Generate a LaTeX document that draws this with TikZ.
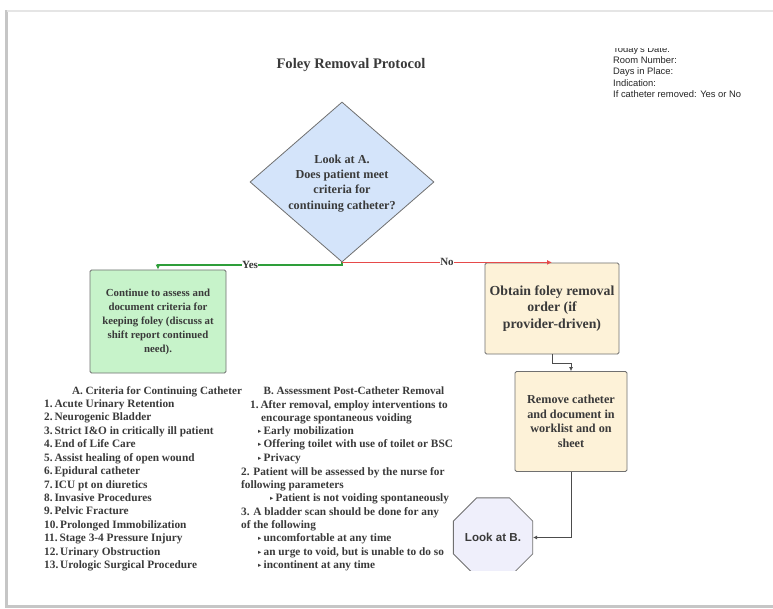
\documentclass[tikz,border=0pt]{standalone}
\usepackage{fontspec}
\setmainfont{Liberation Serif}
\newfontfamily\arialf{Liberation Sans}
\newfontfamily\djv{DejaVu Sans}
\usetikzlibrary{shapes.geometric,arrows.meta}
\definecolor{txt}{HTML}{3A3A3A}
\definecolor{bordc}{HTML}{707070}
\definecolor{dfill}{HTML}{D4E4FA}
\definecolor{gfill}{HTML}{C7F3CA}
\definecolor{bfill}{HTML}{FDF2D8}
\definecolor{ofill}{HTML}{EFEFFB}
\definecolor{gline}{HTML}{2E9E3A}
\definecolor{rline}{HTML}{E64A4A}
\newcommand{\bul}{\makebox[5.5pt][l]{\raisebox{0.6pt}{\djv\fontsize{6.5}{6.5}\selectfont ▸}}}
\tikzset{
  box/.style={draw=bordc, line width=0.8pt, rounded corners=1.5pt, inner sep=0pt, align=center, text=txt},
  listtxt/.style={font=\bfseries\fontsize{11.3}{12}\selectfont, text=txt, inner sep=0pt, anchor=base west},
  listhead/.style={font=\bfseries\fontsize{11.1}{12}\selectfont, text=txt, inner sep=0pt, anchor=base},
  infotxt/.style={font=\arialf\fontsize{9.4}{11}\selectfont, text=black!85, inner sep=0pt, anchor=base west},
  conn/.style={draw=black!70, line width=0.8pt, -{Latex[length=4pt,width=4pt]}},
  edgelbl/.style={font=\bfseries\fontsize{11}{12}\selectfont, text=txt, fill=white, inner sep=0.5pt}
}
\begin{document}
\begin{tikzpicture}[x=1pt,y=-1pt]
\useasboundingbox (0,0) rectangle (773,609);
% page with shadow
\fill[white] (0,0) rectangle (773,609);
\fill[gray!45] (5,10) rectangle (773,608);
\fill[gray!20] (7,10) rectangle (773,12);
\fill[white] (8,12) rectangle (773,605);

% title
\node[font=\bfseries\fontsize{14.6}{16}\selectfont, text=txt, inner sep=0pt] (title) at (351,65) {Foley Removal Protocol};

% info block
\begin{scope}
\clip (600,48.5) rectangle (773,110);
\node[infotxt] (i0) at (613,53) {Today's Date:};
\end{scope}
\node[infotxt] (i1) at (613,63.5) {Room Number:};
\node[infotxt] (i2) at (613,75) {Days in Place:};
\node[infotxt] (i3) at (613,86.5) {Indication:};
\node[infotxt] (i4) at (613,98) {If catheter removed: Yes or No};

% decision diamond
\node[diamond, draw=bordc, fill=dfill, line width=0.8pt, minimum width=184pt, minimum height=160pt, inner sep=0pt] (dec) at (342,182) {};
\node[font=\bfseries\fontsize{12.2}{15.2}\selectfont, text=txt, align=center, inner sep=0pt] (dect) at (342,183.5) {Look at A.\\Does patient meet\\criteria for\\continuing catheter?};

% boxes
\node[box, fill=gfill, minimum width=136pt, minimum height=103pt, font=\bfseries\fontsize{10.8}{14}\selectfont] (cont) at (158,321.5) {Continue to assess and\\document criteria for\\keeping foley (discuss at\\shift report continued\\need).};
\node[box, fill=bfill, minimum width=134pt, minimum height=91pt, font=\bfseries\fontsize{13.8}{16.5}\selectfont] (obtain) at (552,308.5) {Obtain foley removal\\order (if\\provider-driven)};
\node[box, fill=bfill, minimum width=112pt, minimum height=100pt, font=\bfseries\fontsize{12.2}{14.5}\selectfont] (remove) at (571,421.5) {Remove catheter\\and document in\\worklist and on\\sheet};

% octagon (clipped at the bottom)
\begin{scope}
\clip (440,480) rectangle (560,570);
\node[regular polygon, regular polygon sides=8, minimum size=75pt, draw=bordc, fill=ofill, line width=0.8pt, inner sep=0pt, font=\arialf\bfseries\fontsize{11.6}{13}\selectfont, text=txt] (oct) at (493,537.5) {Look at B.};
\end{scope}

% connectors
\coordinate (yesb) at (158,265);
\draw[gline, line width=1.5pt, -{Latex[length=5pt,width=5pt]}] (dec.south) |- (yesb) -- (cont.north);
\node[edgelbl] (yes) at (250,265) {Yes};
\draw[rline, line width=1.5pt, -{Latex[length=5pt,width=5pt]}] (dec.south) -- (dec.south -| obtain.north);
\node[edgelbl] (no) at (447,261.5) {No};
\draw[conn] (obtain.south) -- ++(0,9) -| (remove.north);
\draw[conn] (remove.south) |- (oct.east);

% list A
\node[listhead] (ha) at (157,394) {A. Criteria for Continuing Catheter};
\foreach \t [count=\i] in {1.\,Acute Urinary Retention, 2.\,Neurogenic Bladder, 3.\,Strict I\&O in critically ill patient, 4.\,End of Life Care, 5.\,Assist healing of open wound, 6.\,Epidural catheter, 7.\,ICU pt on diuretics, 8.\,Invasive Procedures, 9.\,Pelvic Fracture, 10.\,Prolonged Immobilization, 11.\,Stage 3-4 Pressure Injury, 12.\,Urinary Obstruction, 13.\,Urologic Surgical Procedure}
  \node[listtxt] (a\i) at (44,{407.5+13.42*(\i-1)}) {\t};

% list B
\node[listhead] (hb) at (354,394) {B. Assessment Post-Catheter Removal};
\foreach \x/\y/\t [count=\i] in {
  250/408.5/{1.\,After removal, employ interventions to},
  261/421.5/{encourage spontaneous voiding},
  258/434.5/{\bul Early mobilization},
  258/447.5/{\bul Offering toilet with use of toilet or BSC},
  258/461.5/{\bul Privacy},
  241/475.5/{2. Patient will be assessed by the nurse for},
  241/488.5/{following parameters},
  270/501.5/{\bul Patient is not voiding spontaneously},
  241/515.5/{3. A bladder scan should be done for any},
  241/528.5/{of the following},
  258/541.5/{\bul uncomfortable at any time},
  258/555.5/{\bul an urge to void, but is unable to do so},
  258/568.5/{\bul incontinent at any time}}
  \node[listtxt] (b\i) at (\x,\y) {\t};
\end{tikzpicture}
\end{document}
